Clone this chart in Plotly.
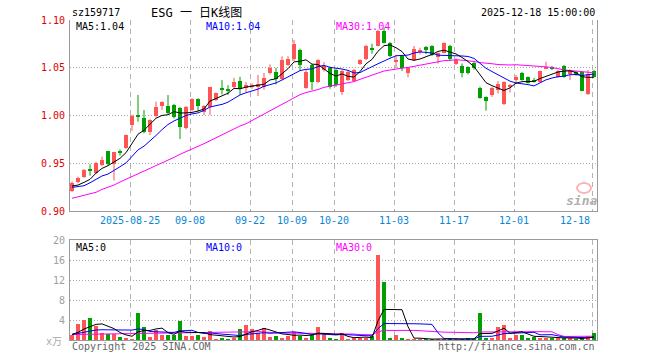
import plotly.graph_objects as go
import pandas as pd

# ---------------- data ----------------
dates = """2025-08-11 2025-08-12 2025-08-13 2025-08-14 2025-08-15
2025-08-18 2025-08-19 2025-08-20 2025-08-21 2025-08-22
2025-08-25 2025-08-26 2025-08-27 2025-08-28 2025-08-29
2025-09-01 2025-09-02 2025-09-03 2025-09-04 2025-09-05
2025-09-08 2025-09-09 2025-09-10 2025-09-11 2025-09-12
2025-09-15 2025-09-16 2025-09-17 2025-09-18 2025-09-19
2025-09-22 2025-09-23 2025-09-24 2025-09-25 2025-09-26
2025-09-29 2025-09-30 2025-10-09 2025-10-10
2025-10-13 2025-10-14 2025-10-15 2025-10-16 2025-10-17
2025-10-20 2025-10-21 2025-10-22 2025-10-23 2025-10-24
2025-10-27 2025-10-28 2025-10-29 2025-10-30 2025-10-31
2025-11-03 2025-11-04 2025-11-05 2025-11-06 2025-11-07
2025-11-10 2025-11-11 2025-11-12 2025-11-13 2025-11-14
2025-11-17 2025-11-18 2025-11-19 2025-11-20 2025-11-21
2025-11-24 2025-11-25 2025-11-26 2025-11-27 2025-11-28
2025-12-01 2025-12-02 2025-12-03 2025-12-04 2025-12-05
2025-12-08 2025-12-09 2025-12-10 2025-12-11 2025-12-12
2025-12-15 2025-12-16 2025-12-17 2025-12-18""".split()

opens = [
    0.9213, 0.9304, 0.9353, 0.9430, 0.9401, 0.9485, 0.9628, 0.9492, 0.9625, 0.9663,
    0.9900, 1.0005, 0.9970, 0.9830, 0.9990, 1.0100, 1.0100, 1.0110, 1.0075, 0.9866,
    1.0058, 1.0170, 1.0040, 1.0089, 1.0162, 1.0280, 1.0270, 1.0302, 1.0364, 1.0285,
    1.0295, 1.0295, 1.0295, 1.0442, 1.0459, 1.0380, 1.0529, 1.0588, 1.0681, 1.0288,
    1.0529, 1.0354, 1.0476, 1.0494, 1.0476, 1.0246, 1.0372, 1.0361, 1.0539, 1.0588,
    1.0700, 1.0733, 1.0885, 1.0756, 1.0572, 1.0623, 1.0448, 1.0581, 1.0668, 1.0717,
    1.0728, 1.0613, 1.0654, 1.0728, 1.0539, 1.0518, 1.0508, 1.0547, 1.0285, 1.0194,
    1.0215, 1.0267, 1.0120, 1.0298, 1.0372, 1.0442, 1.0403, 1.0377, 1.0351, 1.0497,
    1.0511, 1.0403, 1.0518, 1.0435, 1.0459, 1.0456, 1.0225, 1.0466]

highs = [
    0.9310, 0.9360, 0.9440, 0.9490, 0.9515, 0.9570, 0.9630, 0.9620, 0.9645, 0.9800,
    1.0008, 1.0215, 1.0058, 0.9960, 1.0145, 1.0150, 1.0215, 1.0120, 1.0090, 1.0100,
    1.0180, 1.0180, 1.0110, 1.0300, 1.0240, 1.0370, 1.0318, 1.0395, 1.0406, 1.0350,
    1.0335, 1.0424, 1.0445, 1.0535, 1.0500, 1.0620, 1.0620, 1.0791, 1.0700, 1.0480,
    1.0540, 1.0590, 1.0560, 1.0510, 1.0490, 1.0480, 1.0470, 1.0490, 1.0590, 1.0740,
    1.0752, 1.0900, 1.0920, 1.0770, 1.0634, 1.0630, 1.0500, 1.0728, 1.0710, 1.0728,
    1.0735, 1.0660, 1.0765, 1.0740, 1.0600, 1.0545, 1.0515, 1.0560, 1.0302, 1.0200,
    1.0300, 1.0362, 1.0360, 1.0330, 1.0424, 1.0455, 1.0410, 1.0395, 1.0470, 1.0563,
    1.0520, 1.0475, 1.0530, 1.0480, 1.0465, 1.0465, 1.0476, 1.0476]

lows = [
    0.9200, 0.9290, 0.9345, 0.9370, 0.9390, 0.9470, 0.9480, 0.9320, 0.9580, 0.9650,
    0.9840, 0.9935, 0.9813, 0.9796, 0.9980, 1.0058, 1.0010, 0.9970, 0.9754, 0.9855,
    1.0045, 1.0045, 1.0005, 1.0005, 1.0150, 1.0220, 1.0215, 1.0290, 1.0215, 1.0246,
    1.0280, 1.0204, 1.0270, 1.0430, 1.0325, 1.0370, 1.0520, 1.0570, 1.0477, 1.0280,
    1.0267, 1.0340, 1.0460, 1.0280, 1.0300, 1.0215, 1.0360, 1.0350, 1.0530, 1.0580,
    1.0647, 1.0725, 1.0755, 1.0610, 1.0497, 1.0466, 1.0400, 1.0570, 1.0640, 1.0644,
    1.0625, 1.0545, 1.0650, 1.0570, 1.0530, 1.0400, 1.0430, 1.0480, 1.0175, 1.0050,
    1.0195, 1.0230, 1.0110, 1.0240, 1.0345, 1.0365, 1.0335, 1.0345, 1.0345, 1.0490,
    1.0475, 1.0395, 1.0395, 1.0372, 1.0415, 1.0255, 1.0215, 1.0400]

closes = [
    0.9290, 0.9343, 0.9430, 0.9424, 0.9500, 0.9534, 0.9489, 0.9615, 0.9620, 0.9796,
    0.9995, 0.9995, 0.9824, 0.9953, 1.0089, 1.0145, 1.0030, 0.9987, 0.9883, 1.0092,
    1.0170, 1.0100, 1.0099, 1.0295, 1.0233, 1.0275, 1.0265, 1.0354, 1.0274, 1.0319,
    1.0319, 1.0330, 1.0393, 1.0501, 1.0380, 1.0581, 1.0596, 1.0749, 1.0534, 1.0455,
    1.0354, 1.0581, 1.0518, 1.0295, 1.0316, 1.0469, 1.0455, 1.0476, 1.0581, 1.0728,
    1.0697, 1.0885, 1.0764, 1.0623, 1.0580, 1.0497, 1.0494, 1.0696, 1.0691, 1.0681,
    1.0634, 1.0654, 1.0759, 1.0592, 1.0586, 1.0448, 1.0440, 1.0494, 1.0180, 1.0157,
    1.0293, 1.0330, 1.0351, 1.0319, 1.0400, 1.0372, 1.0343, 1.0354, 1.0466, 1.0508,
    1.0484, 1.0466, 1.0403, 1.0476, 1.0424, 1.0260, 1.0435, 1.0408]

# volume, unit: 万
volumes = [
    1.0, 3.2, 4.0, 4.5, 2.9, 1.5, 1.2, 1.3, 0.6, 0.5,
    0.15, 5.5, 2.7, 0.7, 2.0, 1.0, 1.0, 1.0, 3.8, 0.9,
    0.9, 1.1, 0.7, 1.8, 0.2, 0.3, 0.2, 0.5, 2.3, 3.0,
    2.3, 1.5, 2.5, 0.7, 0.9, 0.5, 0.9, 1.7, 0.9, 0.5,
    1.0, 2.7, 1.5, 0.3, 0.15, 1.5, 0.1, 0.3, 0.5, 0.5,
    0.9, 17.0, 11.7, 0.3, 1.0, 0.3, 0.1, 0.2, 0.2, 0.2,
    0.2, 0.2, 0.1, 0.2, 0.2, 0.2, 0.3, 0.2, 5.5, 0.3,
    0.3, 2.7, 3.0, 0.5, 1.0, 1.0, 0.5, 0.7, 0.3, 0.5,
    0.5, 0.3, 0.5, 0.3, 0.2, 0.3, 0.9, 1.5]

# moving-average values before the window is full (earlier history not shown)
ma5_head = [0.9262, 0.9272, 0.9300, 0.9332]
ma10_head = [0.9248, 0.9255, 0.9265, 0.9296, 0.9332, 0.9367, 0.9387, 0.9422, 0.9464]
ma30_head = [0.9133, 0.9150, 0.9167, 0.9178, 0.9196, 0.9227, 0.9248, 0.9272, 0.9304, 0.9332,
             0.9367, 0.9395, 0.9422, 0.9447, 0.9474, 0.9506, 0.9534, 0.9562, 0.9594, 0.9621,
             0.9652, 0.9673, 0.9705, 0.9736, 0.9767, 0.9799, 0.9830, 0.9862, 0.9890]
vma5_head = [1.13, 1.53, 2.2, 2.67]
vma10_head = [1.1, 1.3, 1.6, 1.85, 2.0, 2.05, 2.05, 2.05, 2.05]
vma30_head = [1.1, 1.12, 1.15, 1.2, 1.25, 1.28, 1.3, 1.3, 1.32, 1.35,
              1.35, 1.4, 1.4, 1.42, 1.45, 1.45, 1.45, 1.48, 1.5, 1.5,
              1.5, 1.52, 1.55, 1.55, 1.58, 1.6, 1.6, 1.62, 1.65]

tick_dates = ["2025-08-25", "2025-09-08", "2025-09-22", "2025-10-09", "2025-10-20",
              "2025-11-03", "2025-11-17", "2025-12-01", "2025-12-18"]
tick_text = ["2025-08-25", "09-08", "09-22", "10-09", "10-20", "11-03", "11-17", "12-01", "12-18"]
price_ticks = [0.90, 0.95, 1.00, 1.05, 1.10]
vol_ticks = [4, 8, 12, 16, 20]

# ---------------- helpers ----------------
n = len(dates)
idx = list(range(n))


def moving(vals, window, head):
    m = pd.Series(vals).rolling(window).mean().tolist()
    return head + m[len(head):]


ma5 = moving(closes, 5, ma5_head)
ma10 = moving(closes, 10, ma10_head)
ma30 = moving(closes, 30, ma30_head)
vma5 = moving(volumes, 5, vma5_head)
vma10 = moving(volumes, 10, vma10_head)
vma30 = moving(volumes, 30, vma30_head)

RED = "#ff5454"
GREEN = "#00a000"
MONO = "DejaVu Sans Mono, Noto Sans CJK SC, monospace"
SHIFT = 0.333  # grid lines sit just left of the candle centre

fig = go.Figure()

up = [c >= o for o, c in zip(opens, closes)]
for flag, col in ((True, RED), (False, GREEN)):
    xs = [i for i in idx if up[i] == flag]
    wx, wy = [], []
    for i in xs:
        wx += [i, i, None]
        wy += [lows[i], highs[i], None]
    fig.add_trace(go.Scatter(x=wx, y=wy, mode="lines", line=dict(color=col, width=1),
                             xaxis="x", yaxis="y", hoverinfo="skip"))
    hts, bases = [], []
    for i in xs:
        h = abs(closes[i] - opens[i])
        lo = min(opens[i], closes[i])
        if h < 0.0012:
            mid = lo + h / 2
            h = 0.0012
            lo = mid - h / 2
        hts.append(h)
        bases.append(lo)
    fig.add_trace(go.Bar(x=xs, y=hts, base=bases, width=0.8,
                         marker=dict(color=col, line=dict(width=0)),
                         xaxis="x", yaxis="y"))
    fig.add_trace(go.Bar(x=xs, y=[volumes[i] for i in xs], width=0.8,
                         marker=dict(color=col, line=dict(width=0)),
                         xaxis="x2", yaxis="y2"))

for vals, col in ((ma30, "#ff00ff"), (ma10, "#0000ff"), (ma5, "#000000")):
    fig.add_trace(go.Scatter(x=idx, y=vals, mode="lines", line=dict(color=col, width=1),
                             xaxis="x", yaxis="y", hoverinfo="skip"))
for vals, col in ((vma30, "#ff00ff"), (vma10, "#0000ff"), (vma5, "#000000")):
    fig.add_trace(go.Scatter(x=idx, y=vals, mode="lines", line=dict(color=col, width=1),
                             xaxis="x2", yaxis="y2", hoverinfo="skip"))

grid_x = [dates.index(d) - SHIFT for d in tick_dates]
xr = [-SHIFT, n - 0.5]

common_x = dict(range=xr, tickvals=grid_x, showticklabels=False, ticks="",
                showgrid=True, gridcolor="#b4b4b4", griddash="5px,4px", gridwidth=1,
                showline=True, linecolor="#9a9a9a", linewidth=1, zeroline=False)

fig.update_layout(
    width=660, height=360,
    margin=dict(l=70, r=63, t=20, b=20),
    paper_bgcolor="white", plot_bgcolor="white",
    showlegend=False, barmode="overlay", bargap=0,
    font=dict(family=MONO, size=10, color="#000"),
    xaxis=dict(domain=[0, 1], anchor="y", mirror=False, **common_x),
    xaxis2=dict(domain=[0, 1], anchor="y2", mirror=True, **common_x),
    yaxis=dict(domain=[0.403, 1], range=[0.90, 1.10], tickvals=price_ticks,
               ticktext=["%.2f" % v for v in price_ticks],
               tickfont=dict(family=MONO, size=10, color="#e00000"),
               ticks="", ticklabelstandoff=2,
               showgrid=True, gridcolor="#a8a8a8", griddash="1px,2px", gridwidth=1,
               showline=True, mirror=True, linecolor="#9a9a9a", linewidth=1, zeroline=False),
    yaxis2=dict(domain=[0, 0.3125], range=[0, 20], tickvals=vol_ticks,
                ticktext=[str(v) for v in vol_ticks],
                tickfont=dict(family=MONO, size=10, color="#a0a0a0"),
                ticks="", ticklabelstandoff=2,
                showgrid=True, gridcolor="#a8a8a8", griddash="1px,2px", gridwidth=1,
                showline=True, mirror=True, linecolor="#9a9a9a", linewidth=1, zeroline=False),
)


def px2paper(px, py):
    return (px - 70) / 527.0, (340 - py) / 320.0


anns = []


def add_text(text, px, py, color="#000", size=10, xanchor="left", **kw):
    x, y = px2paper(px, py)
    anns.append(dict(text=text, x=x, y=y, xref="paper", yref="paper", xanchor=xanchor,
                     yanchor="middle", showarrow=False,
                     font=dict(family=MONO, size=size, color=color), **kw))


add_text("sz159717", 70, 13)
add_text("ESG 一 日K线图", 196, 13, size=12, xanchor="center")
add_text("2025-12-18 15:00:00", 597, 13, xanchor="right")

add_text("MA5:%.2f" % ma5[-1], 74, 26)
add_text("MA10:%.2f" % ma10[-1], 204, 26, color="#0000ff")
add_text("MA30:%.2f" % ma30[-1], 334, 26, color="#ff00ff")

add_text("MA5:0", 74, 247)
add_text("MA10:0", 204, 247, color="#0000ff")
add_text("MA30:0", 334, 247, color="#ff00ff")

add_text("x万", 64, 341, color="#a8a8a8", size=10, xanchor="right")
add_text("Copyright 2025 SINA.COM", 70, 346, color="#666666")
add_text("http://finance.sina.com.cn", 597, 346, color="#666666", xanchor="right")

# x tick labels
for k, (gx, t) in enumerate(zip(grid_x, tick_text)):
    anchor = "right" if k == len(grid_x) - 1 else "center"
    xpos = gx + (0.05 if anchor == "right" else 0)
    anns.append(dict(text=t, x=xpos, y=(340 - 220) / 320.0, xref="x", yref="paper",
                     xanchor=anchor, yanchor="middle", showarrow=False,
                     font=dict(family=MONO, size=10, color="#0a86d4")))

# sina watermark
add_text("<b><i>sina</i></b>", 581, 200, color="#b0b0b0", size=13, xanchor="center")
fig.update_layout(annotations=anns)
cx0, cy0 = px2paper(577, 183)
cx1, cy1 = px2paper(591, 193)
fig.add_shape(type="circle", xref="paper", yref="paper", x0=cx0, x1=cx1, y0=cy1, y1=cy0,
              line=dict(color="rgba(240,90,90,0.45)", width=2))

fig.write_html("out.html")
